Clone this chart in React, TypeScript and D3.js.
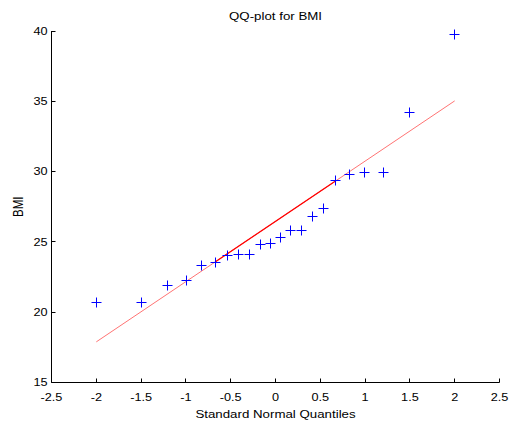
import React from 'react';
import * as d3 from 'd3';

// standard normal quantiles (x) and sorted BMI values (y)
const quantiles = [
  -2.0, -1.491, -1.208, -0.998, -0.826, -0.674, -0.538, -0.410, -0.289, -0.172, -0.057,
  0.057, 0.172, 0.289, 0.410, 0.538, 0.674, 0.826, 0.998, 1.208, 1.491, 2.0,
];
const bmi = [
  20.68, 20.68, 21.88, 22.27, 23.31, 23.57, 24.02, 24.07, 24.12, 24.83, 24.9,
  25.28, 25.78, 25.78, 26.79, 27.34, 29.35, 29.81, 29.92, 29.92, 34.19, 39.72,
];

// reference line: quartile segment and its extension
const quartX = [-0.674, 0.674];
const quartY = [23.57, 29.35];
const extX = [-2.0, 2.0];
const extY = [17.89, 35.03];

const xTicks = [-2.5, -2, -1.5, -1, -0.5, 0, 0.5, 1, 1.5, 2, 2.5];
const yTicks = [15, 20, 25, 30, 35, 40];

const W = 510;
const H = 425;
const left = 51.5;
const right = 499.5;
const top = 31;
const bottom = 382.5;
const font = 'Arial, "Liberation Sans", Helvetica, sans-serif';
const stretch = 1.21; // the picture is wider than the original figure

// snap to pixel centre so 1px strokes stay crisp
const px = (v: number) => Math.round(v - 0.5) + 0.5;

function Label(props: { x: number; y: number; size: number; anchor: string; dy?: string; rotate?: boolean; children: any }) {
  const { x, y, size, anchor, dy, rotate, children } = props;
  const tf = `translate(${x},${y}) scale(${stretch},1)` + (rotate ? ' rotate(-90)' : '');
  return (
    <text transform={tf} textAnchor={anchor} fontSize={size} dy={dy}>{children}</text>
  );
}

export default function App() {
  const x = d3.scaleLinear().domain([-2.5, 2.5]).range([left, right]);
  const y = d3.scaleLinear().domain([15, 40]).range([bottom, top]);

  const seg = (xs: number[], ys: number[]) =>
    d3.line<number>()
      .x(d => x(xs[d]))
      .y(d => y(ys[d]))(xs.map((_, i) => i)) || '';

  const tick = 4;
  const arm = 5;

  return (
    <svg width={W} height={H} style={{ position: 'absolute', left: 0, top: 0, background: '#fff' }}
      fontFamily={font}>
      <rect width={W} height={H} fill="#fff" />

      {/* reference line */}
      <path d={seg(extX, extY)} stroke="#ff0000" strokeOpacity={0.55} strokeWidth={1} fill="none" />
      <path d={seg(quartX, quartY)} stroke="#ff0000" strokeWidth={1.3} fill="none" />

      {/* data markers */}
      {quantiles.map((q, i) => {
        const cx = px(x(q));
        const cy = px(y(bmi[i]));
        return (
          <g key={i} stroke="#0000ff" strokeWidth={1}>
            <line x1={cx - arm} x2={cx + arm} y1={cy} y2={cy} />
            <line x1={cx} x2={cx} y1={cy - arm} y2={cy + arm} />
          </g>
        );
      })}

      {/* axes */}
      <line x1={left} x2={right} y1={bottom} y2={bottom} stroke="#000" />
      <line x1={left} x2={left} y1={top} y2={bottom} stroke="#000" />

      {xTicks.map(t => (
        <g key={'x' + t}>
          <line x1={px(x(t))} x2={px(x(t))} y1={bottom} y2={bottom - tick} stroke="#000" />
          <Label x={x(t)} y={401} size={10.5} anchor="middle">{t}</Label>
        </g>
      ))}
      {yTicks.map(t => (
        <g key={'y' + t}>
          <line x1={left} x2={left + tick} y1={px(y(t))} y2={px(y(t))} stroke="#000" />
          <Label x={left - 4} y={y(t)} size={10.5} anchor="end" dy="0.35em">{t}</Label>
        </g>
      ))}

      <Label x={(left + right) / 2} y={20} size={11} anchor="middle">QQ-plot for BMI</Label>
      <Label x={(left + right) / 2} y={418} size={11} anchor="middle">Standard Normal Quantiles</Label>
      <Label x={22.5} y={(top + bottom) / 2} size={11.5} anchor="middle" rotate>BMI</Label>
    </svg>
  );
}
